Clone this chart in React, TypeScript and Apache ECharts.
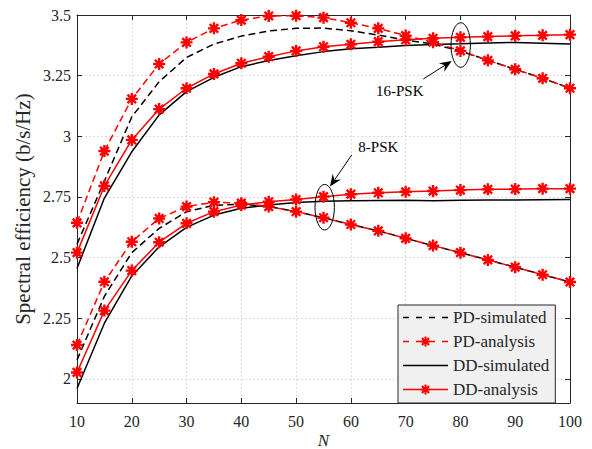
import React, { useEffect, useRef } from 'react';
import * as echarts from 'echarts';

// Number of elements N
const N = [10, 15, 20, 25, 30, 35, 40, 45, 50, 55, 60, 65, 70, 75, 80, 85, 90, 95, 100];

// 16-PSK
const pdSim16 = [2.555, 2.815, 3.08, 3.225, 3.325, 3.38, 3.413, 3.434, 3.445, 3.446, 3.435, 3.417, 3.397, 3.38, 3.352, 3.313, 3.276, 3.239, 3.198];
const pdAn16 = [2.643, 2.939, 3.154, 3.298, 3.387, 3.445, 3.479, 3.496, 3.497, 3.489, 3.468, 3.445, 3.415, 3.388, 3.352, 3.313, 3.276, 3.239, 3.198];
const ddSim16 = [2.455, 2.745, 2.936, 3.088, 3.184, 3.243, 3.287, 3.312, 3.332, 3.349, 3.361, 3.367, 3.374, 3.378, 3.381, 3.385, 3.387, 3.384, 3.38];
const ddAn16 = [2.52, 2.795, 2.985, 3.112, 3.198, 3.257, 3.301, 3.328, 3.352, 3.369, 3.379, 3.39, 3.398, 3.404, 3.408, 3.411, 3.414, 3.416, 3.419];

// 8-PSK
const pdSim8 = [2.077, 2.34, 2.52, 2.62, 2.689, 2.715, 2.72, 2.71, 2.689, 2.664, 2.636, 2.61, 2.579, 2.549, 2.52, 2.49, 2.46, 2.429, 2.399];
const pdAn8 = [2.139, 2.4, 2.565, 2.661, 2.71, 2.728, 2.724, 2.71, 2.689, 2.664, 2.636, 2.61, 2.579, 2.549, 2.52, 2.49, 2.46, 2.429, 2.399];
const ddSim8 = [1.96, 2.229, 2.424, 2.544, 2.624, 2.675, 2.703, 2.716, 2.727, 2.732, 2.734, 2.735, 2.736, 2.734, 2.736, 2.737, 2.737, 2.738, 2.739];
const ddAn8 = [2.026, 2.281, 2.446, 2.563, 2.641, 2.689, 2.716, 2.73, 2.739, 2.751, 2.761, 2.767, 2.771, 2.774, 2.778, 2.781, 2.782, 2.784, 2.784];

const yTicks = [2, 2.25, 2.5, 2.75, 3, 3.25, 3.5];
const legendNames = ['PD-simulated', 'PD-analysis', 'DD-simulated', 'DD-analysis'];

const FONT = '"Liberation Serif", "Times New Roman", serif';
const AX = '#262626';

// asterisk outline (filled shape, consistent winding)
function starPath(cx: number, cy: number, s: number) {
  const polys = [
    [[-1, -5], [1, -5], [1, 5], [-1, 5]],
    [[-5, -1], [5, -1], [5, 1], [-5, 1]],
    [[2.83, 4.24], [-4.24, -2.83], [-2.83, -4.24], [4.24, 2.83]],
    [[4.24, -2.83], [-2.83, 4.24], [-4.24, 2.83], [2.83, -4.24]],
  ];
  return polys
    .map((p) => 'M' + p.map(([x, y]) => `${(cx + x * s).toFixed(2)},${(cy + y * s).toFixed(2)}`).join('L') + 'Z')
    .join(' ');
}
const STAR = 'path://' + starPath(0, 0, 1);

function legendIcon(dashed: boolean, star: boolean) {
  const parts: string[] = [
    'M0,0L0.01,0L0.01,0.01L0,0.01Z',
    'M44.99,13.99L45,13.99L45,14L44.99,14Z',
  ];
  const segs = dashed ? [[0, 6], [13, 19], [26, 32], [39, 45]] : [[0, 45]];
  for (const [a, b] of segs) parts.push(`M${a},6.25L${b},6.25L${b},7.75L${a},7.75Z`);
  if (star) parts.push(starPath(22.5, 7, 1.0));
  return 'path://' + parts.join(' ');
}

function mk(name: string, vals: number[], dashed: boolean, red: boolean) {
  const color = red ? '#ff0000' : '#000000';
  return {
    name,
    type: 'line',
    xAxisIndex: 0,
    yAxisIndex: 0,
    data: N.map((n, i) => [n, vals[i]]),
    symbol: red ? STAR : 'none',
    symbolSize: 12,
    showSymbol: red,
    itemStyle: { color, borderWidth: 0 },
    lineStyle: { color, width: 1.5, type: dashed ? [7, 4] : 'solid' },
    z: red ? 3 : 2,
    silent: true,
  };
}

function arrowEls(x1: number, y1: number, x2: number, y2: number) {
  const dx = x2 - x1, dy = y2 - y1;
  const L = Math.sqrt(dx * dx + dy * dy);
  const ux = dx / L, uy = dy / L;
  const nx = -uy, ny = ux;
  const hl = 12, hw = 5, inset = 8;
  const bx = x2 - hl * ux, by = y2 - hl * uy;
  const ix = x2 - inset * ux, iy = y2 - inset * uy;
  return [
    { type: 'line', shape: { x1, y1, x2: ix, y2: iy }, style: { stroke: '#000', lineWidth: 1 } },
    {
      type: 'polygon',
      shape: { points: [[x2, y2], [bx + hw * nx, by + hw * ny], [ix, iy], [bx - hw * nx, by - hw * ny]] },
      style: { fill: '#000' },
    },
  ];
}

export default function App() {
  const ref = useRef<HTMLDivElement>(null);
  useEffect(() => {
    if (!ref.current) return;
    const chart = echarts.init(ref.current, undefined, { renderer: 'svg' });
    const axisCommon = {
      axisLine: { show: true, lineStyle: { color: AX, width: 1 } },
      axisTick: { show: true, inside: true, length: 5, lineStyle: { color: AX } },
    };
    chart.setOption({
      animation: false,
      backgroundColor: '#ffffff',
      grid: { left: 77, right: 22, top: 15, bottom: 46, containLabel: false, outerBoundsMode: 'none' },
      xAxis: [
        {
          type: 'value',
          min: 10,
          max: 100,
          interval: 10,
          position: 'bottom',
          ...axisCommon,
          axisLabel: { color: AX, fontFamily: FONT, fontSize: 16, margin: 10 },
          splitLine: { show: true, lineStyle: { color: '#dcdcdc', type: [2, 2], width: 1 } },
          name: 'N',
          nameLocation: 'middle',
          nameGap: 30,
          nameMoveOverlap: false,
          nameTextStyle: { color: AX, fontFamily: FONT, fontSize: 17, lineHeight: 14, fontStyle: 'italic' },
        },
        {
          type: 'value',
          min: 10,
          max: 100,
          interval: 10,
          position: 'top',
          ...axisCommon,
          axisLabel: { show: false },
          splitLine: { show: false },
        },
      ],
      yAxis: [
        {
          type: 'value',
          min: 1.9,
          max: 3.5,
          position: 'left',
          ...axisCommon,
          axisTick: { ...axisCommon.axisTick, customValues: yTicks },
          axisLabel: { color: AX, fontFamily: FONT, fontSize: 16, margin: 6, customValues: yTicks },
          splitLine: { show: true, lineStyle: { color: '#dcdcdc', type: [2, 2], width: 1 } },
          name: 'Spectral efficiency (b/s/Hz)',
          nameLocation: 'middle',
          nameGap: 44,
          nameMoveOverlap: false,
          nameTextStyle: { color: AX, fontFamily: FONT, fontSize: 21 },
        },
        {
          type: 'value',
          min: 1.9,
          max: 3.5,
          position: 'right',
          ...axisCommon,
          axisTick: { ...axisCommon.axisTick, customValues: yTicks },
          axisLabel: { show: false, customValues: yTicks },
          splitLine: { show: false },
        },
      ],
      legend: {
        data: [
          { name: legendNames[0], icon: legendIcon(true, false) },
          { name: legendNames[1], icon: legendIcon(true, true) },
          { name: legendNames[2], icon: legendIcon(false, false) },
          { name: legendNames[3], icon: legendIcon(false, true) },
        ],
        orient: 'vertical',
        left: 398,
        top: 305,
        itemWidth: 45,
        itemHeight: 14,
        itemGap: 7,
        padding: [4, 6, 5, 5],
        symbolKeepAspect: false,
        itemStyle: { borderWidth: 0, borderColor: 'transparent' },
        backgroundColor: '#f0f0f0',
        borderColor: AX,
        borderWidth: 1,
        selectedMode: false,
        textStyle: { color: AX, fontFamily: FONT, fontSize: 17 },
      },
      series: [
        mk('PD-simulated', pdSim16, true, false),
        mk('PD-analysis', pdAn16, true, true),
        mk('DD-simulated', ddSim16, false, false),
        mk('DD-analysis', ddAn16, false, true),
        mk('PD-simulated', pdSim8, true, false),
        mk('PD-analysis', pdAn8, true, true),
        mk('DD-simulated', ddSim8, false, false),
        mk('DD-analysis', ddAn8, false, true),
      ],
      graphic: [
        { type: 'ellipse', shape: { cx: 460.7, cy: 45, rx: 9.7, ry: 22.3 }, style: { fill: 'none', stroke: '#000', lineWidth: 1 }, z: 10 },
        { type: 'ellipse', shape: { cx: 324.7, cy: 207.2, rx: 9.7, ry: 22.8 }, style: { fill: 'none', stroke: '#000', lineWidth: 1 }, z: 10 },
        ...arrowEls(423.3, 79, 451.7, 61).map((e) => ({ ...e, z: 10 })),
        ...arrowEls(351.7, 155, 330, 186.5).map((e) => ({ ...e, z: 10 })),
        {
          type: 'text',
          x: 399.7,
          y: 91,
          style: { text: '16-PSK', fill: '#000', font: `15px ${FONT}`, align: 'center', verticalAlign: 'middle' },
          z: 10,
        },
        {
          type: 'text',
          x: 378.3,
          y: 147.3,
          style: { text: '8-PSK', fill: '#000', font: `15px ${FONT}`, align: 'center', verticalAlign: 'middle' },
          z: 10,
        },
      ],
    } as any);
    return () => chart.dispose();
  }, []);
  return <div ref={ref} style={{ position: 'absolute', left: 0, top: 0, width: 592, height: 449 }} />;
}
